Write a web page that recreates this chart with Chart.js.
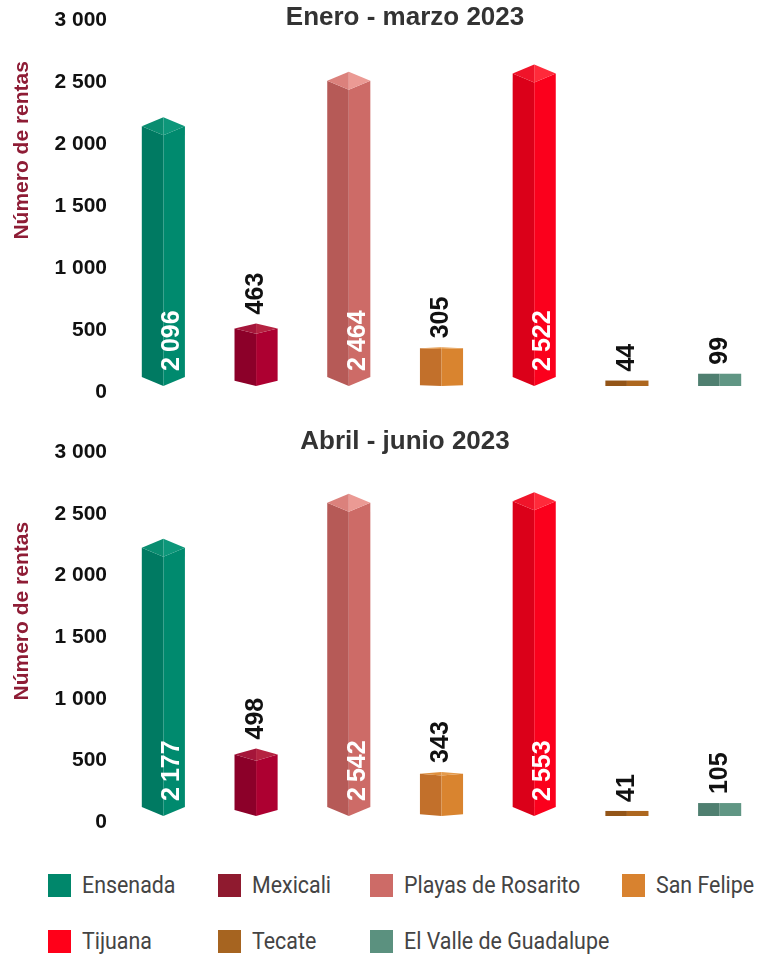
<!DOCTYPE html>
<html lang="es">
<head>
<meta charset="utf-8">
<script src="https://cdn.jsdelivr.net/npm/chart.js@4.4.1/dist/chart.umd.min.js"></script>
<style>
  body { margin: 0; background: #fff; overflow: hidden; }
  .panel { position: relative; width: 810px; height: 420px; }
  .legend { position: absolute; left: 48px; top: 857px; display: grid;
    grid-template-columns: 170px 152px 252px auto; grid-auto-rows: 56px;
    font-family: "Roboto", sans-serif; font-size: 23px; color: #444; }
  .legend div { display: flex; align-items: center; white-space: nowrap; }
  .legend span { display: inline-block; width: 23px; height: 23px; margin-right: 11px; flex: none; }
  .legend em { font-style: normal; display: inline-block; transform: scaleX(0.93); transform-origin: left center; }
</style>
</head>
<body>
<div class="panel"><canvas id="chart1"></canvas></div>
<div class="panel"><canvas id="chart2"></canvas></div>
<div class="legend" id="legend"></div>
<script>
const cities = ["Ensenada", "Mexicali", "Playas de Rosarito", "San Felipe", "Tijuana", "Tecate", "El Valle de Guadalupe"]
const rentasEneMar = [2096, 463, 2464, 305, 2522, 44, 99]
const rentasAbrJun = [2177, 498, 2542, 343, 2553, 41, 105]
const yTicks = [0, 500, 1000, 1500, 2000, 2500, 3000]

// legend colour + shaded faces for the prism bars
const legendColors = ["#00876b", "#8f1a2f", "#cd6b67", "#d8822f", "#ff0019", "#a66420", "#5b917f"]
const faces = [
  { left: "#007a62", right: "#008a6e", capL: "#0a8d70", capR: "#0d977a" },
  { left: "#8c0029", right: "#ad0031", capL: "#a5163a", capR: "#b52341" },
  { left: "#b65a57", right: "#cd6b67", capL: "#db817c", capR: "#eb9a94" },
  { left: "#c2702b", right: "#d9842f", capL: "#df8f3d", capR: "#e49a4b" },
  { left: "#db0019", right: "#fb001c", capL: "#f0142a", capR: "#ff2a3a" },
  { left: "#935518", right: "#ad671f", capL: "#b87129", capR: "#c07a30" },
  { left: "#4f7f70", right: "#609684", capL: "#6aa08e", capR: "#73a896" },
]

const fmt = (v, sep) => String(v).replace(/\B(?=(\d{3})+(?!\d))/g, sep)
const LIFT = 6 // bars float a little above the zero line, as in the original

// draws every bar as a prism seen from one corner
const prismBars = {
  id: "prismBars",
  beforeDatasetsDraw(chart) {
    const ctx = chart.ctx
    const meta = chart.getDatasetMeta(0)
    ctx.save()
    meta.data.forEach((bar, i) => {
      const f = faces[i]
      const x = bar.x
      const w = bar.width
      const xl = x - w / 2
      const xr = x + w / 2
      const base = bar.base - LIFT
      const top = bar.y - LIFT
      const d = Math.max(0, Math.min(9, (base - top - 34) / 4.5))
      bar.$depth = d
      const poly = (pts, color) => {
        ctx.fillStyle = color
        ctx.beginPath()
        ctx.moveTo(pts[0][0], pts[0][1])
        pts.slice(1).forEach(p => ctx.lineTo(p[0], p[1]))
        ctx.closePath()
        ctx.fill()
      }
      poly([[xl, top], [x, top + d], [x, base], [xl, base - d]], f.left)
      poly([[x, top + d], [xr, top], [xr, base - d], [x, base]], f.right)
      if (d > 0.5) {
        poly([[xl, top], [x, top - d], [x, top + d]], f.capL)
        poly([[x, top - d], [xr, top], [x, top + d]], f.capR)
      }
    })
    ctx.restore()
    return false
  },
  afterDraw(chart) {
    const ctx = chart.ctx
    const meta = chart.getDatasetMeta(0)
    const values = chart.data.datasets[0].data
    ctx.save()
    ctx.font = "bold 25px 'Liberation Sans', Arial, sans-serif"
    ctx.textAlign = "left"
    ctx.textBaseline = "middle"
    meta.data.forEach((bar, i) => {
      const v = values[i]
      ctx.save()
      if (v > 1000) {
        ctx.translate(bar.x + 9, bar.base - LIFT - 15)
        ctx.fillStyle = "#ffffff"
      } else {
        ctx.translate(bar.x, bar.y - LIFT - (bar.$depth || 0) - 9)
        ctx.fillStyle = "#111111"
      }
      ctx.rotate(-Math.PI / 2)
      ctx.fillText(fmt(v, "\u2009"), 0, 0)
      ctx.restore()
    })
    ctx.restore()
  },
}

// rotated y-axis caption placed on the left margin
const sideLabel = {
  id: "sideLabel",
  afterDraw(chart, args, opts) {
    const ctx = chart.ctx
    const area = chart.chartArea
    ctx.save()
    ctx.translate(22, area.top + (area.bottom - area.top) * opts.frac)
    ctx.rotate(-Math.PI / 2)
    ctx.font = "bold 21px 'Liberation Sans', Arial, sans-serif"
    ctx.fillStyle = "#8e1c35"
    ctx.textAlign = "center"
    ctx.textBaseline = "middle"
    ctx.fillText(opts.text, 0, 0)
    ctx.restore()
  },
}

const makeChart = (id, title, values, pad, titlePad, frac) => {
  return new Chart(document.getElementById(id), {
    type: "bar",
    data: {
      labels: cities,
      datasets: [
        {
          label: title,
          data: values,
          backgroundColor: legendColors,
          barPercentage: 0.465,
          categoryPercentage: 1,
        },
      ],
    },
    plugins: [prismBars, sideLabel],
    options: {
      responsive: true,
      maintainAspectRatio: false,
      animation: false,
      layout: { padding: pad },
      plugins: {
        legend: { display: false },
        tooltip: { enabled: false },
        title: {
          display: true,
          text: title,
          color: "#333333",
          font: { family: "'Liberation Sans', Arial, sans-serif", size: 26, weight: "bold" },
          padding: titlePad,
        },
        sideLabel: { text: "Número de rentas", frac: frac },
      },
      scales: {
        x: { display: false },
        y: {
          min: 0,
          max: 3000,
          afterBuildTicks: (s) => { s.ticks = yTicks.map(v => ({ value: v })) },
          afterFit: (s) => { s.width = 73 },
          grid: { display: false },
          border: { display: false },
          ticks: {
            padding: 2,
            color: "#111111",
            font: { family: "'Liberation Sans', Arial, sans-serif", size: 21, weight: "bold" },
            callback: (v) => fmt(v, " "),
          },
        },
      },
    },
  })
}

document.addEventListener("DOMContentLoaded", () => {
  makeChart("chart1", "Enero - marzo 2023", rentasEneMar,
    { top: 2, bottom: 28, left: 44, right: 44 }, { top: 0, bottom: -13 }, 0.35)
  makeChart("chart2", "Abril - junio 2023", rentasAbrJun,
    { top: 6, bottom: 18, left: 44, right: 44 }, { top: 0, bottom: -5 }, 0.43)

  // HTML legend built from the same category and colour arrays
  const legend = document.getElementById("legend")
  cities.forEach((c, i) => {
    const item = document.createElement("div")
    const box = document.createElement("span")
    const txt = document.createElement("em")
    box.style.background = legendColors[i]
    txt.textContent = c
    item.appendChild(box)
    item.appendChild(txt)
    legend.appendChild(item)
  })
})
</script>
</body>
</html>
